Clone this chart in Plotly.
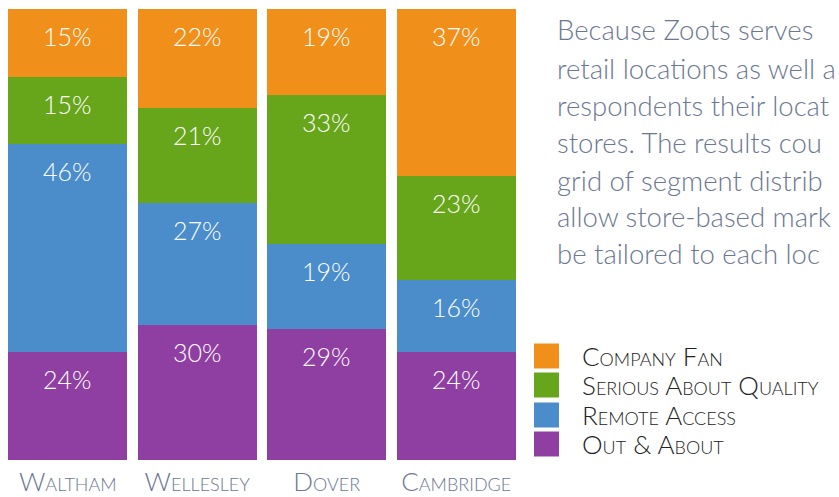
import plotly.graph_objects as go

categories = ["Waltham", "Wellesley", "Dover", "Cambridge"]
segment_names = ["Company Fan", "Serious About Quality", "Remote Access", "Out & About"]
company_fan = [15, 22, 19, 37]
serious_about_quality = [15, 21, 33, 23]
remote_access = [46, 27, 19, 16]
out_and_about = [24, 30, 29, 24]

paragraph_lines = [
    "Because Zoots serves",
    "retail locations as well a",
    "respondents their locat",
    "stores. The results cou",
    "grid of segment distrib",
    "allow store-based mark",
    "be tailored to each loc",
]

colors = {
    "Company Fan": "#f0901a",
    "Serious About Quality": "#67a61a",
    "Remote Access": "#4a8dca",
    "Out & About": "#8f3fa2",
}

W, H = 839, 497
ML, MR, MT, MB = 3, 318, 9, 37
PW, PH = W - ML - MR, H - MT - MB
FONT = "Lato"

def px_x(px):
    return (px - ML) / PW

def px_y(py):
    return (H - MB - py) / PH

series = {
    "Company Fan": company_fan,
    "Serious About Quality": serious_about_quality,
    "Remote Access": remote_access,
    "Out & About": out_and_about,
}
stack_order = ["Out & About", "Remote Access", "Serious About Quality", "Company Fan"]

fig = go.Figure()
for name in stack_order:
    fig.add_trace(go.Bar(
        x=categories, y=series[name], name=name,
        marker=dict(color=colors[name], line=dict(width=0)),
        showlegend=False, hoverinfo="skip",
    ))

annotations = []
cum = [0] * len(categories)
for name in stack_order:
    vals = series[name]
    for i, c in enumerate(categories):
        cum[i] += vals[i]
        annotations.append(dict(
            x=c, y=cum[i], xref="x", yref="y", text=f"{vals[i]}%",
            showarrow=False, yanchor="middle", yshift=-27,
            font=dict(family=FONT, size=25, color="white", weight=300),
        ))

# paragraph
line_y = [30, 68, 105, 142, 180, 216, 253]
for ln, yy in zip(paragraph_lines, line_y):
    annotations.append(dict(
        x=px_x(555), y=px_y(yy), xref="paper", yref="paper", text=ln,
        showarrow=False, xanchor="left", yanchor="middle",
        font=dict(family=FONT, size=27.5, color="#6b7891", weight=300),
    ))

# legend
shapes = []
leg_y = [356, 385, 415, 444]
for name, yy in zip(segment_names, leg_y):
    shapes.append(dict(
        type="rect", xref="paper", yref="paper",
        x0=px_x(534), x1=px_x(559), y0=px_y(yy + 12.5), y1=px_y(yy - 12.5),
        fillcolor=colors[name], line=dict(width=0),
    ))
    annotations.append(dict(
        x=px_x(580), y=px_y(yy), xref="paper", yref="paper", text=name,
        showarrow=False, xanchor="left", yanchor="middle", height=28,
        font=dict(family=FONT, size=26, color="#222222", variant="small-caps", weight=300),
    ))

fig.update_layout(
    barmode="stack", bargap=0.08,
    width=W, height=H,
    margin=dict(l=ML, r=MR, t=MT, b=MB, pad=0, autoexpand=False),
    paper_bgcolor="white", plot_bgcolor="white",
    showlegend=False,
    annotations=annotations, shapes=shapes,
    xaxis=dict(
        showgrid=False, zeroline=False, showline=False, ticks="",
        automargin=False, ticklabelstandoff=4,
        tickfont=dict(family=FONT, size=26, color="#6b7891", variant="small-caps", weight=300),
        fixedrange=True,
    ),
    yaxis=dict(range=[0, 100], visible=False, fixedrange=True),
)

fig.write_html("out.html", config={"displayModeBar": False},
               post_script="document.body.style.margin='0';")
